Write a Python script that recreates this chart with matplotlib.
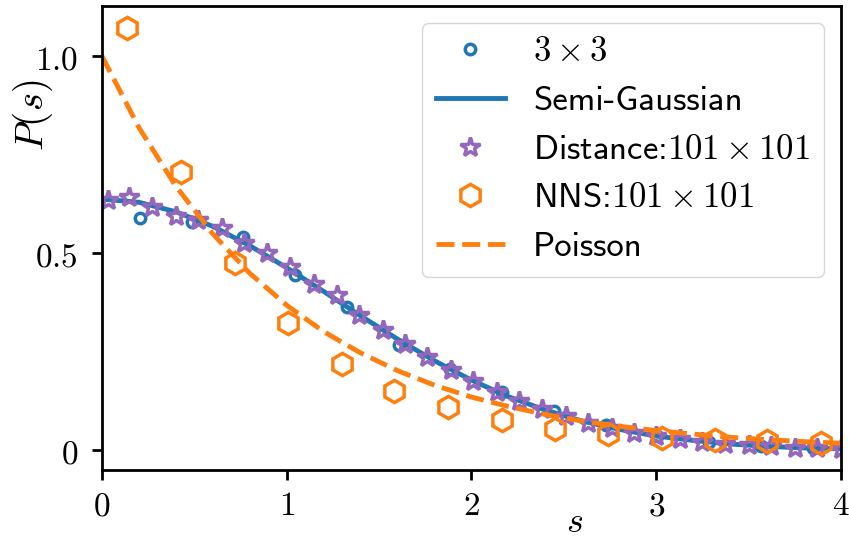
import numpy as np
import matplotlib
matplotlib.use('Agg')
import matplotlib.pyplot as plt

plt.rcParams['mathtext.fontset'] = 'cm'

# theory curves, every 0.2
s_theory = [0.0, 0.2, 0.4, 0.6, 0.8, 1.0, 1.2, 1.4, 1.6, 1.8, 2.0,
            2.2, 2.4, 2.6, 2.8, 3.0, 3.2, 3.4, 3.6, 3.8, 4.0]
p_semi_gauss = [0.637, 0.629, 0.605, 0.568, 0.519, 0.463, 0.403, 0.341, 0.282, 0.227, 0.178,
                0.136, 0.102, 0.074, 0.053, 0.036, 0.025, 0.016, 0.010, 0.006, 0.004]
p_poisson = [1.000, 0.819, 0.670, 0.549, 0.449, 0.368, 0.301, 0.247, 0.202, 0.165, 0.135,
             0.111, 0.091, 0.074, 0.061, 0.050, 0.041, 0.033, 0.027, 0.022, 0.018]

# 3x3 data
s_small = [0.206, 0.486, 0.766, 1.046, 1.326, 1.606, 1.886, 2.166, 2.446, 2.726,
           3.006, 3.286, 3.566, 3.846]
p_small = [0.588, 0.580, 0.540, 0.444, 0.364, 0.268, 0.205, 0.148, 0.100, 0.064,
           0.037, 0.022, 0.012, 0.007]

# Distance 101x101
s_dist = [0.034, 0.148, 0.269, 0.400, 0.521, 0.648, 0.769, 0.895, 1.017, 1.147, 1.270,
          1.390, 1.520, 1.640, 1.760, 1.890, 2.010, 2.140, 2.260, 2.380, 2.510,
          2.630, 2.760, 2.880, 3.000, 3.130, 3.250, 3.370, 3.500, 3.620, 3.750,
          3.870, 4.000]
p_dist = [0.636, 0.643, 0.618, 0.594, 0.584, 0.563, 0.527, 0.501, 0.465, 0.421, 0.393,
          0.344, 0.305, 0.270, 0.237, 0.204, 0.176, 0.148, 0.125, 0.105, 0.086,
          0.070, 0.056, 0.045, 0.036, 0.028, 0.022, 0.017, 0.013, 0.010, 0.007,
          0.005, 0.004]

# NNS 101x101
s_nns = [0.135, 0.430, 0.720, 1.008, 1.297, 1.580, 1.875, 2.163, 2.452, 2.740,
         3.030, 3.318, 3.600, 3.890]
p_nns = [1.071, 0.706, 0.474, 0.323, 0.218, 0.150, 0.110, 0.078, 0.055, 0.042,
         0.032, 0.027, 0.024, 0.019]

fig = plt.figure(figsize=(8.49, 5.39), dpi=100)
ax = fig.add_axes([0.120, 0.128, 0.8706, 0.861])

ax.plot(s_small, p_small, 'o', color='C0', mfc='none', ms=7.5, mew=2.5, label=r'$3\times 3$')
ax.plot(s_theory, p_semi_gauss, '-', color='C0', lw=3.5, label='Semi-Gaussian')
ax.plot(s_dist, p_dist, '*', color='C4', mfc='none', ms=15, mew=2.5,
        label=r'Distance:$101\times 101$')
ax.plot(s_nns, p_nns, 'h', color='C1', mfc='none', ms=16, mew=2.5,
        label=r'NNS:$101\times 101$')
ax.plot(s_theory, p_poisson, '--', color='C1', lw=3.5, label='Poisson')

ax.set_xlim(0, 4)
ax.set_ylim(-0.05, 1.127)
ax.set_xticks([0, 1, 2, 3, 4])
ax.set_xticklabels(['$0$', '$1$', '$2$', '$3$', '$4$'])
ax.set_yticks([0, 0.5, 1.0])
ax.set_yticklabels(['$0$', '$0.5$', '$1.0$'])
ax.tick_params(labelsize=24, width=2, length=7)
ax.tick_params(axis='x', pad=7)
ax.tick_params(axis='y', pad=10)
for sp in ax.spines.values():
    sp.set_linewidth(2)

ax.set_xlabel('$s$', fontsize=26)
ax.xaxis.set_label_coords(0.64, -0.075)
ax.set_ylabel('$P(s)$', fontsize=28)
ax.yaxis.set_label_coords(-0.063, 0.765)

ax.legend(loc='upper right', prop={'family': 'cmss10', 'size': 25})

fig.savefig('out.png', dpi=100)
